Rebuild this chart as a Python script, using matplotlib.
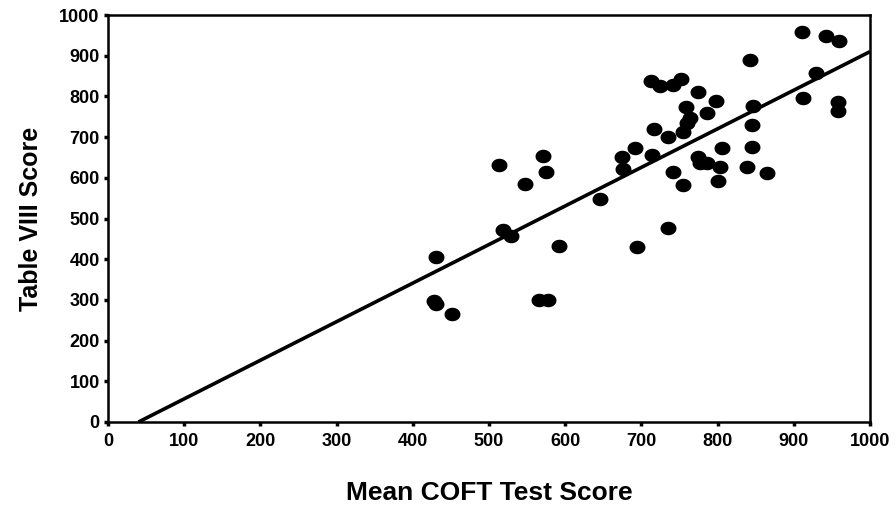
import numpy as np
import matplotlib
matplotlib.use('Agg')
import matplotlib.pyplot as plt

plt.rcParams['font.family'] = ['Liberation Sans', 'DejaVu Sans']

# values
coft_score = [430, 428, 430, 452, 513, 571, 575, 547, 519, 529,
              592, 565, 577, 646, 674, 676, 692, 694, 712, 725,
              741, 752, 714, 717, 735, 735, 741, 755, 755, 760,
              764, 758, 774, 786, 798, 774, 777, 786, 806, 803,
              800, 843, 846, 845, 845, 838, 865, 911, 942, 959,
              929, 912, 958, 958]
table8_score = [405, 298, 290, 265, 632, 653, 614, 585, 472, 457,
                432, 300, 300, 548, 651, 622, 673, 430, 838, 825,
                828, 843, 656, 720, 700, 477, 614, 582, 713, 735,
                747, 774, 811, 759, 789, 651, 636, 636, 673, 627,
                592, 889, 776, 730, 675, 627, 612, 958, 948, 936,
                857, 796, 786, 764]

# fitted line end points
fit_x = [40, 1000]
fit_y = [0, 910]

ticks = list(range(0, 1001, 100))

fig = plt.figure(figsize=(8.96, 5.12), dpi=100)
ax = fig.add_axes([108 / 896, 90 / 512, 762 / 896, 407 / 512])

# slightly flattened dot
t = np.linspace(0, 2 * np.pi, 40)
ellipse = list(zip(1.18 * np.cos(t), np.sin(t)))

ax.plot(coft_score, table8_score, linestyle='none', marker=ellipse,
        markersize=11.5, color='black', markeredgewidth=0)
ax.plot(fit_x, fit_y, color='black', linewidth=2.6, solid_capstyle='butt')

ax.set_xlim(0, 1000)
ax.set_ylim(0, 1000)
ax.set_xticks(ticks)
ax.set_yticks(ticks)
ax.tick_params(axis='both', direction='out', length=3, width=2.5,
               labelsize=13, pad=3)
ax.tick_params(axis='x', pad=5)
for lab in ax.get_xticklabels() + ax.get_yticklabels():
    lab.set_fontweight('bold')

for side in ['left', 'bottom', 'top', 'right']:
    ax.spines[side].set_linewidth(1.8)

ax.set_xlabel('Mean COFT Test Score', fontsize=19, fontweight='bold', labelpad=22)
ax.set_ylabel('Table VIII Score', fontsize=18, fontweight='bold', labelpad=12)

fig.savefig('out.png', dpi=100)
